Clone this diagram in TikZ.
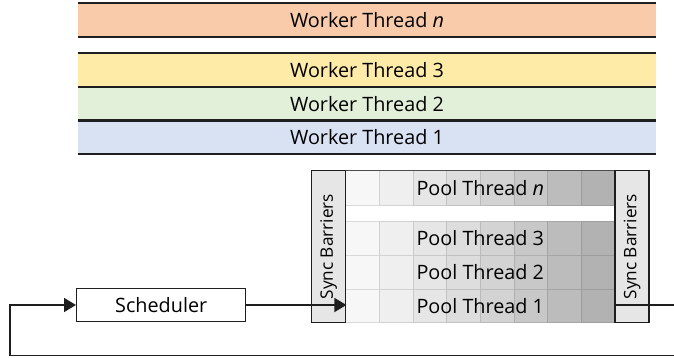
\documentclass[tikz,border=0pt]{standalone}
\usepackage{fontspec}
\setmainfont{Open Sans}
\usetikzlibrary{arrows.meta}

\definecolor{lineclr}{HTML}{1E1E1E}
\definecolor{wkorange}{HTML}{F9CBAA}
\definecolor{wkyellow}{HTML}{FFEBA8}
\definecolor{wkgreen}{HTML}{E2F0D9}
\definecolor{wkblue}{HTML}{D9E2F3}
\definecolor{syncfill}{HTML}{E6E6E6}

\tikzset{
  txt/.style={font=\fontsize{19.8}{22}\selectfont, text=black},
  workerbar/.style={txt, draw=none, minimum width=578pt, minimum height=33.6pt, inner sep=0pt},
  barline/.style={draw=lineclr, line width=1.6pt},
  syncbox/.style={font=\fontsize{17.2}{19}\selectfont, text=black,
    draw=lineclr, line width=1.4pt, fill=syncfill, rotate=90,
    minimum width=152pt, minimum height=34pt, inner sep=0pt},
  schedbox/.style={txt, draw=lineclr, line width=1.4pt, fill=white,
    minimum width=169pt, minimum height=33.4pt, inner sep=0pt},
  pooltext/.style={txt, inner sep=0pt},
  flow/.style={draw=lineclr, line width=1.6pt},
  flowarrow/.style={flow, -{Triangle[length=12pt, width=14pt]}},
}

\begin{document}
\begin{tikzpicture}[x=1pt, y=-1pt]
\useasboundingbox (0,0) rectangle (674,358);

% worker thread bars
\node[workerbar, fill=wkorange] (wn) at (367,20.2) {Worker Thread \textit{n}};
\node[workerbar, fill=wkyellow] (w3) at (367,70.2) {Worker Thread 3};
\node[workerbar, fill=wkgreen]  (w2) at (367,103.9) {Worker Thread 2};
\node[workerbar, fill=wkblue]   (w1) at (367,137.3) {Worker Thread 1};
\foreach \w in {wn,w3,w2,w1}{
  \draw[barline] (\w.north west) -- (\w.north east);
  \draw[barline] (\w.south west) -- (\w.south east);
}

% pool thread grid: eight columns darkening to the right
\def\colw{33.66}
\foreach \i/\shade in {0/F7F7F7,1/EFEFEF,2/E6E6E6,3/DDDDDD,4/D3D3D3,5/C8C8C8,6/BCBCBC,7/B2B2B2}{
  \definecolor{cellclr}{HTML}{\shade}
  \foreach \ya/\yb in {170.7/205, 221/255.7, 255.7/289.3, 289.3/322.7}{
    \draw[fill=cellclr, draw=cellclr!88!black, line width=0.8pt]
      ({345.7+\i*\colw},\ya) rectangle ({345.7+(\i+1)*\colw},\yb);
  }
}
\draw[draw=black!70, line width=1pt] (345.7,170.9) -- (615,170.9);

\node[pooltext] (pn) at (480.3,188) {Pool Thread \textit{n}};
\node[pooltext] (p3) at (480.3,238.5) {Pool Thread 3};
\node[pooltext] (p2) at (480.3,272.5) {Pool Thread 2};
\node[pooltext] (p1) at (480.3,306) {Pool Thread 1};

% barriers on both sides of the pool
\node[syncbox] (lsync) at (328.7,246.7) {Sync Barriers};
\node[syncbox] (rsync) at (632,246.7) {Sync Barriers};

% scheduler
\node[schedbox] (sched) at (161.2,305) {Scheduler};

% feedback loop
\coordinate (loopR1) at (690,305);
\coordinate (loopR2) at (690,355.5);
\coordinate (loopL) at (10,355.5);

\draw[flowarrow] (sched.east) -- (lsync.south |- sched.east);
\draw[flowarrow] (rsync.north |- sched.east) -- (loopR1) -- (loopR2) -- (loopL) |- (sched.west);
\end{tikzpicture}
\end{document}
